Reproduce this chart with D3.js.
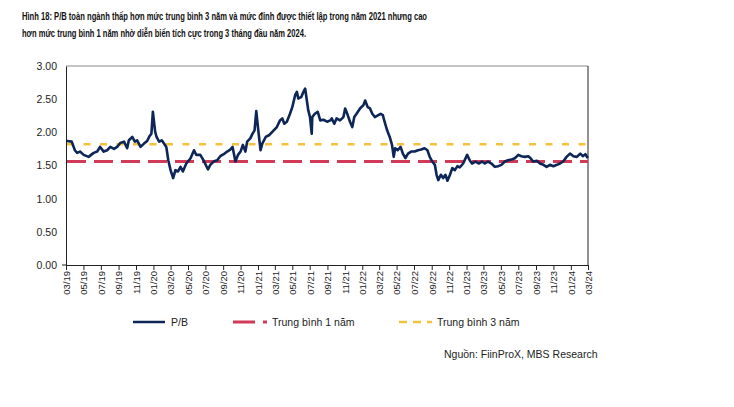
<!DOCTYPE html>
<html><head><meta charset="utf-8">
<script src="https://cdn.jsdelivr.net/npm/d3@7"></script>
<style>
html,body{margin:0;padding:0;background:#fff;}
svg{display:block;font-family:"Liberation Sans",Arial,sans-serif;}
</style></head>
<body>
<svg id="c" width="734" height="407"></svg>
<script>
const titleLines = [
  "Hình 18: P/B toàn ngành thấp hơn mức trung bình 3 năm và mức đỉnh được thiết lập trong năm 2021 nhưng cao",
  "hơn mức trung bình 1 năm nhờ diễn biến tích cực trong 3 tháng đầu năm 2024."
];
const sourceText = "Nguồn: FiinProX, MBS Research";
const legendLabels = ["P/B", "Trung bình 1 năm", "Trung bình 3 năm"];
const yTicks = [0, 0.5, 1.0, 1.5, 2.0, 2.5, 3.0];
const xDomain = ["2019-03-01", "2024-03-01"];

const dates = [
"2019-03-04","2019-03-21","2019-04-01","2019-04-09","2019-04-19","2019-05-02","2019-05-19","2019-06-06","2019-06-18","2019-06-28",
"2019-07-11","2019-07-23","2019-08-03","2019-08-16","2019-08-27","2019-09-07","2019-09-20","2019-10-01","2019-10-07","2019-10-19",
"2019-10-28","2019-11-05","2019-11-17","2019-11-29","2019-12-10","2019-12-18","2019-12-25","2019-12-30","2020-01-07","2020-01-12",
"2020-01-21","2020-01-30","2020-02-07","2020-02-15","2020-02-22","2020-03-01","2020-03-10","2020-03-18","2020-03-27","2020-04-05",
"2020-04-13","2020-04-25","2020-05-10","2020-05-22","2020-05-30","2020-06-13","2020-06-24","2020-07-10","2020-07-18","2020-07-30",
"2020-08-11","2020-08-22","2020-09-03","2020-09-15","2020-09-26","2020-10-04","2020-10-14","2020-10-23","2020-11-01","2020-11-09",
"2020-11-18","2020-11-24","2020-12-05","2020-12-13","2020-12-20","2020-12-26","2021-01-02","2021-01-10","2021-01-16","2021-01-28",
"2021-02-10","2021-02-25","2021-03-08","2021-03-19","2021-03-27","2021-04-03","2021-04-12","2021-04-23","2021-05-01","2021-05-11",
"2021-05-17","2021-05-22","2021-06-01","2021-06-09","2021-06-15","2021-06-21","2021-06-26","2021-07-02","2021-07-08","2021-07-10",
"2021-07-19","2021-07-29","2021-08-07","2021-08-18","2021-08-31","2021-09-11","2021-09-16","2021-09-25","2021-10-03","2021-10-15",
"2021-10-27","2021-11-02","2021-11-11","2021-11-19","2021-11-27","2021-12-04","2021-12-12","2021-12-24","2022-01-05","2022-01-11",
"2022-01-20","2022-01-28","2022-02-05","2022-02-14","2022-02-26","2022-03-06","2022-03-14","2022-03-20","2022-03-29","2022-04-07",
"2022-04-15","2022-04-21","2022-04-26","2022-05-05","2022-05-15","2022-05-23","2022-06-01","2022-06-10","2022-06-21","2022-07-03",
"2022-07-15","2022-07-26","2022-08-07","2022-08-17","2022-08-25","2022-09-03","2022-09-12","2022-09-18","2022-09-24","2022-10-03",
"2022-10-11","2022-10-19","2022-10-26","2022-11-04","2022-11-12","2022-11-21","2022-11-30","2022-12-08","2022-12-20","2023-01-03",
"2023-01-12","2023-01-20","2023-02-01","2023-02-12","2023-02-24","2023-03-06","2023-03-17","2023-03-29","2023-04-10","2023-04-22",
"2023-05-03","2023-05-15","2023-05-26","2023-06-08","2023-06-19","2023-07-01","2023-07-12","2023-07-24","2023-08-05","2023-08-13",
"2023-08-22","2023-09-04","2023-09-15","2023-09-27","2023-10-08","2023-10-20","2023-11-01","2023-11-13","2023-11-24","2023-12-05",
"2023-12-17","2023-12-29","2024-01-10","2024-01-22","2024-02-03","2024-02-12","2024-02-21","2024-02-29"
];
const pb = [
1.87,1.86,1.73,1.69,1.71,1.66,1.63,1.69,1.71,1.78,
1.71,1.73,1.78,1.75,1.78,1.84,1.86,1.76,1.88,1.93,
1.86,1.88,1.78,1.83,1.87,1.94,1.98,2.31,2.01,1.93,
1.86,1.88,1.83,1.78,1.58,1.43,1.31,1.43,1.41,1.48,
1.41,1.53,1.61,1.73,1.66,1.66,1.58,1.44,1.51,1.56,
1.58,1.64,1.67,1.71,1.74,1.78,1.56,1.66,1.71,1.81,
1.71,1.86,1.91,1.98,2.03,2.32,2.03,1.73,1.83,1.93,
1.96,2.03,2.08,2.18,2.21,2.13,2.16,2.28,2.38,2.56,
2.61,2.51,2.53,2.61,2.66,2.48,2.33,2.23,1.98,2.23,
2.28,2.31,2.18,2.19,2.16,2.18,2.21,2.13,2.21,2.18,
2.23,2.36,2.26,2.16,2.08,2.23,2.28,2.36,2.41,2.48,
2.38,2.36,2.28,2.23,2.26,2.28,2.26,2.16,2.03,1.93,
1.81,1.63,1.76,1.73,1.78,1.68,1.61,1.68,1.71,1.71,
1.73,1.74,1.76,1.73,1.63,1.56,1.51,1.36,1.28,1.36,
1.31,1.36,1.27,1.36,1.46,1.43,1.49,1.47,1.53,1.66,
1.58,1.53,1.56,1.53,1.56,1.53,1.56,1.53,1.48,1.49,
1.51,1.56,1.58,1.59,1.61,1.66,1.64,1.63,1.64,1.61,
1.56,1.57,1.53,1.51,1.48,1.51,1.49,1.51,1.53,1.56,
1.63,1.68,1.64,1.63,1.68,1.64,1.67,1.61
];
const avg1y = 1.56;
const avg3y = 1.82;

const colors = {pb:"#0d2657", y1:"#d23b57", y3:"#f3c23c"};

const svg = d3.select("#c");
svg.append("rect").attr("width",734).attr("height",407).attr("fill","#fff");

const L = 66, R = 588, T = 66, B = 265;
const parse = d3.timeParse("%Y-%m-%d");
const x = d3.scaleTime().domain(xDomain.map(parse)).range([L, R]);
const y = d3.scaleLinear().domain([0, 3]).range([B, T]);

// title
titleLines.forEach((t, i) => {
  svg.append("text").attr("x", 22).attr("y", 19.5 + i * 17)
    .attr("font-size", 10.5).attr("font-weight", "bold").attr("fill", "#111")
    .attr("textLength", i === 0 ? 405 : 284).attr("lengthAdjust", "spacingAndGlyphs")
    .text(t);
});

// frame
svg.append("line").attr("x1", L).attr("x2", R).attr("y1", T).attr("y2", T).attr("stroke", "#8a8a8a").attr("stroke-width", 1);
svg.append("line").attr("x1", R).attr("x2", R).attr("y1", T).attr("y2", B).attr("stroke", "#222").attr("stroke-width", 1);

// y axis
const yAxis = d3.axisLeft(y).tickValues(yTicks).tickFormat(d3.format(".2f")).tickSize(0).tickPadding(9);
const gy = svg.append("g").attr("transform", `translate(${L},0)`).call(yAxis);
gy.select(".domain").attr("stroke", "#222");
gy.selectAll("text").attr("font-size", 10.5).attr("fill", "#222").attr("font-family", "'Liberation Sans',Arial,sans-serif");

// x axis
const xAxis = d3.axisBottom(x).ticks(d3.timeMonth.every(2)).tickFormat(d3.timeFormat("%m/%y")).tickSize(5).tickSizeOuter(0);
const gx = svg.append("g").attr("transform", `translate(0,${B})`).call(xAxis);
gx.select(".domain").attr("stroke", "#222");
gx.selectAll(".tick line").attr("stroke", "#222");
gx.selectAll("text").attr("font-size", 9.5).attr("fill", "#222")
  .attr("font-family", "'Liberation Sans',Arial,sans-serif")
  .attr("transform", "rotate(-90)").attr("text-anchor", "end")
  .attr("x", -6).attr("y", 0).attr("dy", "0.35em");
svg.append("line").attr("x1", L - 4).attr("x2", L).attr("y1", B).attr("y2", B).attr("stroke", "#222");

// average lines
svg.append("line").attr("x1", L + 1).attr("x2", R).attr("y1", y(avg1y)).attr("y2", y(avg1y))
  .attr("stroke", colors.y1).attr("stroke-width", 3).attr("stroke-dasharray", "19,8");
svg.append("line").attr("x1", L + 1).attr("x2", R).attr("y1", y(avg3y)).attr("y2", y(avg3y))
  .attr("stroke", colors.y3).attr("stroke-width", 2.5).attr("stroke-dasharray", "7,9.5");

// P/B line
const data = dates.map((d, i) => ({date: parse(d), v: pb[i]}));
const line = d3.line().x(d => x(d.date)).y(d => y(d.v));
svg.append("path").datum(data).attr("d", line).attr("fill", "none")
  .attr("stroke", colors.pb).attr("stroke-width", 2.6).attr("stroke-linejoin", "round");

// legend
const ly = 322;
svg.append("line").attr("x1", 133).attr("x2", 165).attr("y1", ly).attr("y2", ly).attr("stroke", colors.pb).attr("stroke-width", 2.5);
svg.append("text").attr("x", 171).attr("y", ly + 4).attr("font-size", 10.5).attr("fill", "#222").text(legendLabels[0]);
svg.append("line").attr("x1", 233).attr("x2", 267).attr("y1", ly).attr("y2", ly).attr("stroke", colors.y1).attr("stroke-width", 3).attr("stroke-dasharray", "22,8");
svg.append("text").attr("x", 272).attr("y", ly + 4).attr("font-size", 10.5).attr("fill", "#222").text(legendLabels[1]);
svg.append("line").attr("x1", 399).attr("x2", 432).attr("y1", ly).attr("y2", ly).attr("stroke", colors.y3).attr("stroke-width", 2.5).attr("stroke-dasharray", "8,6");
svg.append("text").attr("x", 437).attr("y", ly + 4).attr("font-size", 10.5).attr("fill", "#222").text(legendLabels[2]);

// source
svg.append("text").attr("x", 444).attr("y", 358).attr("font-size", 10.5).attr("fill", "#222").text(sourceText);
</script>
</body></html>
